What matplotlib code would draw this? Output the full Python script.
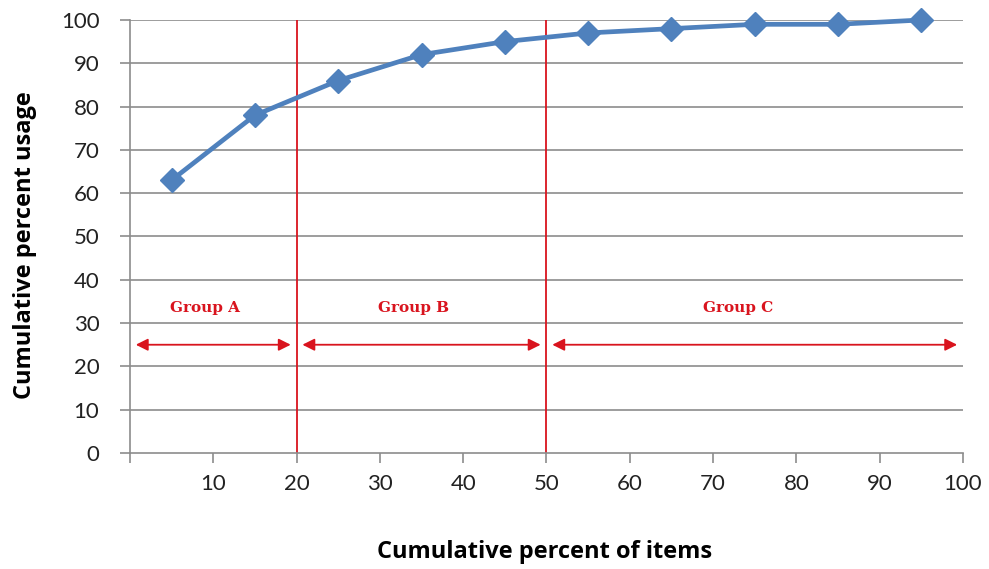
import matplotlib
matplotlib.use("Agg")
import matplotlib.pyplot as plt

# Cumulative usage curve (ABC analysis)
pct_items = [5, 15, 25, 35, 45, 55, 65, 75, 85, 95]
pct_usage = [63, 78, 86, 92, 95, 97, 98, 99, 99, 100]

group_names = ["Group A", "Group B", "Group C"]
group_bounds = [(0, 20), (20, 50), (50, 100)]
boundaries = [20, 50]

x_ticks = [10, 20, 30, 40, 50, 60, 70, 80, 90, 100]
y_ticks = [0, 10, 20, 30, 40, 50, 60, 70, 80, 90, 100]

blue = "#4F81BD"
red = "#D9141E"
grid_gray = "#8C8C8C"

fig = plt.figure(figsize=(9.89, 5.69), dpi=100)
ax = fig.add_axes([0.1314, 0.2039, 0.8423, 0.761])

ax.set_xlim(0, 100)
ax.set_ylim(0, 100)

for y in y_ticks[1:]:
    ax.axhline(y, color=grid_gray, lw=1.2, zorder=1)

for b in boundaries:
    ax.axvline(b, color=red, lw=1.3, zorder=2)

ax.plot(pct_items, pct_usage, color=blue, lw=3.4, marker="D", ms=12,
        mfc=blue, mec=blue, zorder=4, clip_on=False)

arrow_y = 25
label_y = 33.5
for name, (lo, hi) in zip(group_names, group_bounds):
    ax.annotate("", xy=(hi - 0.7, arrow_y), xytext=(lo + 0.7, arrow_y),
                arrowprops=dict(arrowstyle="<|-|>", color=red, lw=1.3,
                                mutation_scale=18, shrinkA=0, shrinkB=0),
                zorder=3)
    ax.text((lo + hi) / 2 - (1 if name != "Group C" else 2), label_y, name,
            color=red, ha="center", va="center", fontsize=11,
            family="DejaVu Serif", fontweight="bold")

for side in ["top", "right"]:
    ax.spines[side].set_visible(False)
for side in ["left", "bottom"]:
    ax.spines[side].set_color(grid_gray)
    ax.spines[side].set_linewidth(1.2)

ax.set_xticks([0] + x_ticks)
ax.set_xticklabels([""] + [str(v) for v in x_ticks])
ax.set_yticks(y_ticks)
ax.tick_params(axis="both", colors=grid_gray, length=7, width=1.2,
               labelcolor="#222222", labelsize=16)
ax.tick_params(axis="y", pad=15)
ax.tick_params(axis="x", pad=8)
for lab in ax.get_xticklabels() + ax.get_yticklabels():
    lab.set_family("Lato")

ax.set_xlabel("Cumulative percent of items", fontsize=17, fontweight="bold",
              family="Open Sans")
ax.set_ylabel("Cumulative percent usage", fontsize=17, fontweight="bold",
              family="Open Sans")

# axis titles at fixed figure positions
ax.xaxis.set_label_coords(545 / 989, 1 - 552 / 569, transform=fig.transFigure)
ax.yaxis.set_label_coords(25 / 989, 1 - 245 / 569, transform=fig.transFigure)
ax.xaxis.label.set_va("center")
ax.yaxis.label.set_va("center")

fig.savefig("out.png", dpi=100, facecolor="white")
